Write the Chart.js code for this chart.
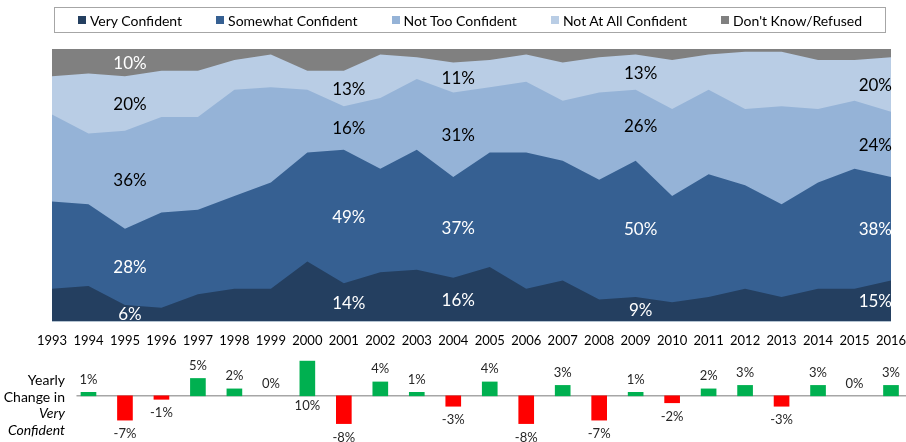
<!DOCTYPE html>
<html lang="en">
<head>
<meta charset="utf-8">
<title>Confidence</title>
<script src="https://cdn.jsdelivr.net/npm/chart.js@4.4.1/dist/chart.umd.min.js"></script>
<style>
  body { margin: 0; background: #fff; font-family: Lato, sans-serif; }
  #lienzo { position: relative; width: 906px; height: 442px; overflow: hidden; }
  #cajaArea { position: absolute; left: 0; top: 0; width: 906px; height: 363px; }
  #cajaBarras { position: absolute; left: 0; top: 350px; width: 906px; height: 92px; }
  #leyenda { position: absolute; left: 54px; top: 7px; width: 830px; height: 24px; border: 1px solid #a6a6a6;
    display: flex; justify-content: center; align-items: center; gap: 34px; font-size: 14px; color: #000; }
  #leyenda .item { display: flex; align-items: center; }
  #leyenda i { display: inline-block; width: 8px; height: 8px; margin-right: 4px; }
  #rotulo { position: absolute; left: 0; top: 372px; width: 65px; text-align: right; font-size: 14px; line-height: 16.5px; color: #000; }
</style>
</head>
<body>
<div id="lienzo">
  <div id="cajaArea"><canvas id="grafArea"></canvas></div>
  <div id="cajaBarras"><canvas id="grafBarras"></canvas></div>
  <div id="leyenda"></div>
  <div id="rotulo">Yearly<br>Change in<br><em>Very</em><br><em>Confident</em></div>
</div>
<script>
// Años de la encuesta
const anios = ['1993','1994','1995','1996','1997','1998','1999','2000','2001','2002','2003','2004',
  '2005','2006','2007','2008','2009','2010','2011','2012','2013','2014','2015','2016'];

// Porcentajes por respuesta (cada año suma 100)
const muyConfiado  = [12,13, 6, 5,10,12,12,22,14,18,19,16,20,12,15, 8, 9, 7, 9,12, 9,12,12,15];
const algoConfiado = [32,30,28,35,31,34,39,40,49,38,44,37,42,50,44,44,50,39,45,38,34,39,44,38];
const pocoConfiado = [32,26,36,35,34,39,35,23,16,26,26,31,24,26,22,32,26,32,31,28,36,27,25,24];
const nadaConfiado = [14,22,20,17,17,11,12, 7,13,16, 8,11,10,10,14,13,13,18,13,21,20,18,15,20];
const noSabe       = [10, 9,10, 8, 8, 4, 2, 8, 8, 2, 3, 5, 4, 2, 5, 3, 2, 4, 2, 1, 1, 4, 4, 3];

// Cambio anual en "Very Confident" (1993 no tiene dato)
const cambioAnual = [null,1,-7,-1,5,2,0,10,-8,4,1,-3,4,-8,3,-7,1,-2,2,3,-3,3,0,3];

// Años con etiqueta de porcentaje
const aniosEtiqueta = ['1995','2001','2004','2009','2016'];

const series = [
  { label: 'Very Confident',       data: muyConfiado,  color: '#243f60', texto: '#fff', etiquetas: aniosEtiqueta },
  { label: 'Somewhat Confident',   data: algoConfiado, color: '#366092', texto: '#fff', etiquetas: aniosEtiqueta },
  { label: 'Not Too Confident',    data: pocoConfiado, color: '#95b3d7', texto: '#000', etiquetas: aniosEtiqueta },
  { label: 'Not At All Confident', data: nadaConfiado, color: '#b9cde5', texto: '#000', etiquetas: aniosEtiqueta },
  { label: "Don't Know/Refused",   data: noSabe,       color: '#808080', texto: '#fff', etiquetas: ['1995'] }
];

// Etiquetas en el centro de cada franja
const etiquetasArea = {
  id: 'etiquetasArea',
  afterDatasetsDraw(chart) {
    const ctx = chart.ctx;
    const area = chart.chartArea;
    const y0 = chart.scales.y.getPixelForValue(0);
    ctx.save();
    ctx.font = '17px Lato';
    ctx.textAlign = 'center';
    ctx.textBaseline = 'middle';
    chart.data.datasets.forEach((ds, i) => {
      const meta = chart.getDatasetMeta(i);
      const previa = i > 0 ? chart.getDatasetMeta(i - 1) : null;
      ctx.fillStyle = ds.colorTexto;
      ds.etiquetas.forEach(anio => {
        const idx = anios.indexOf(anio);
        const pt = meta.data[idx];
        const base = previa ? previa.data[idx].y : y0;
        const texto = ds.data[idx] + '%';
        const w = ctx.measureText(texto).width;
        let x = pt.x + 5;
        if (x + w / 2 > area.right + 1) x = area.right + 1 - w / 2;
        ctx.fillText(texto, x, (pt.y + base) / 2 + 1);
      });
    });
    ctx.restore();
  }
};

const grafArea = new Chart(document.getElementById('grafArea'), {
  type: 'line',
  data: {
    labels: anios,
    datasets: series.map(s => ({
      label: s.label,
      data: s.data,
      backgroundColor: s.color,
      borderColor: s.color,
      borderWidth: 0,
      fill: 'origin',
      pointRadius: 0,
      tension: 0,
      colorTexto: s.texto,
      etiquetas: s.etiquetas
    }))
  },
  options: {
    responsive: true,
    maintainAspectRatio: false,
    animation: false,
    layout: { padding: { left: 52, right: 15, top: 49, bottom: 2 } },
    scales: {
      x: {
        offset: false,
        grid: { display: false, drawTicks: false },
        border: { display: false },
        ticks: { color: '#000', font: { family: 'Lato', size: 13 }, padding: 12, maxRotation: 0, autoSkip: false },
        // los años extremos caben en el margen, sin encoger el área
        afterFit(escala) { escala.paddingLeft = 0; escala.paddingRight = 0; }
      },
      y: { display: false, stacked: true, min: 0, max: 100 }
    },
    plugins: {
      legend: { display: false },
      tooltip: { enabled: false }
    }
  },
  plugins: [etiquetasArea]
});

// Leyenda en HTML a partir de los datasets
const leyenda = document.getElementById('leyenda');
grafArea.data.datasets.forEach(ds => {
  const item = document.createElement('span');
  item.className = 'item';
  const cuadro = document.createElement('i');
  cuadro.style.background = ds.backgroundColor;
  item.appendChild(cuadro);
  item.appendChild(document.createTextNode(ds.label));
  leyenda.appendChild(item);
});

// Línea del cero y etiquetas de las barras
const ejeCero = {
  id: 'ejeCero',
  beforeDatasetsDraw(chart) {
    const ctx = chart.ctx;
    const y = chart.scales.y.getPixelForValue(0);
    const x0 = chart.scales.x.getPixelForValue(1) - 12;
    ctx.save();
    ctx.strokeStyle = '#a6a6a6';
    ctx.lineWidth = 1.5;
    ctx.beginPath();
    ctx.moveTo(x0, y);
    ctx.lineTo(chart.width, y);
    ctx.stroke();
    ctx.restore();
  }
};

const etiquetasBarras = {
  id: 'etiquetasBarras',
  afterDatasetsDraw(chart) {
    const ctx = chart.ctx;
    const area = chart.chartArea;
    const meta = chart.getDatasetMeta(0);
    const valores = chart.data.datasets[0].data;
    ctx.save();
    ctx.font = '13px Lato';
    ctx.fillStyle = '#262626';
    ctx.textAlign = 'center';
    ctx.textBaseline = 'middle';
    meta.data.forEach((barra, i) => {
      const v = valores[i];
      if (v === null) return;
      let y;
      if (v > 0) {
        y = barra.y - 13;
        if (y - 7 < area.top) y = barra.base + 10;
      } else if (v < 0) {
        y = barra.y + 14;
      } else {
        y = barra.base - 12;
      }
      ctx.fillText(v + '%', barra.x, y);
    });
    ctx.restore();
  }
};

new Chart(document.getElementById('grafBarras'), {
  type: 'bar',
  data: {
    labels: anios,
    datasets: [{
      label: 'Yearly Change in Very Confident',
      data: cambioAnual,
      backgroundColor: cambioAnual.map(v => v > 0 ? '#00b050' : v < 0 ? '#ff0000' : 'rgba(0,0,0,0)'),
      barThickness: 15,
      clip: false
    }]
  },
  options: {
    responsive: true,
    maintainAspectRatio: false,
    animation: false,
    layout: { padding: { left: 52, right: 15, top: 0, bottom: 0 } },
    scales: {
      x: { display: false, offset: false },
      y: { display: false, min: -13.3, max: 13.2 }
    },
    plugins: {
      legend: { display: false },
      tooltip: { enabled: false }
    }
  },
  plugins: [ejeCero, etiquetasBarras]
});
</script>
</body>
</html>
